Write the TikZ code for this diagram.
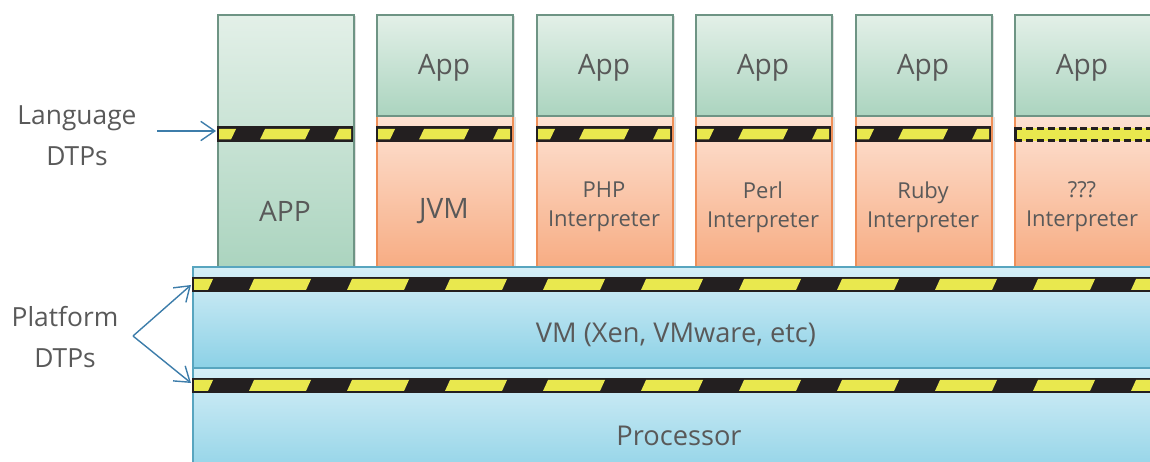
\documentclass[tikz,border=0pt]{standalone}
\usepackage{fontspec}
\setmainfont{Open Sans}
\usetikzlibrary{arrows.meta,shadows}

\definecolor{txtgray}{HTML}{595959}
\definecolor{appTop}{HTML}{E3F0E8}
\definecolor{appBot}{HTML}{ABD4BF}
\definecolor{appEdge}{HTML}{6E9484}
\definecolor{intTop}{HTML}{FDE2D3}
\definecolor{intBot}{HTML}{F7AC83}
\definecolor{intEdge}{HTML}{EF8F58}
\definecolor{hwTop}{HTML}{D6EFF7}
\definecolor{hwBot}{HTML}{8CD1E6}
\definecolor{hwEdge}{HTML}{58A5BF}
\definecolor{hazYel}{HTML}{E9E84E}
\definecolor{hazBlk}{HTML}{231F20}
\definecolor{arrowblue}{HTML}{3D7DAA}

\begin{document}
\begin{tikzpicture}[x=0.02cm,y=-0.02cm,
  every node/.style={text=txtgray,inner sep=0pt},
  colshadow/.style={general shadow={fill=black,opacity=0.12,shadow xshift=1.5pt,shadow yshift=-0.5pt}},
  appbox/.style={draw=appEdge,line width=0.9pt,shade,top color=appTop,bottom color=appBot,
    minimum width=2.72cm,anchor=north west,colshadow},
  intbox/.style={draw=intEdge,line width=1.4pt,shade,top color=intTop,bottom color=intBot,
    minimum width=2.72cm,minimum height=3.02cm,anchor=north west,colshadow},
  hwbox/.style={draw=hwEdge,line width=0.9pt,shade,top color=hwTop,bottom color=hwBot,
    minimum width=19.6cm,anchor=north west},
  biglabel/.style={font=\fontsize{16}{19}\selectfont},
  intlabel/.style={align=center,font=\fontsize{12.5}{16.5}\selectfont},
  sidelabel/.style={align=center,font=\fontsize{15}{23.5}\selectfont},
  dtparrow/.style={draw=arrowblue,line width=0.8pt,-{Straight Barb[length=8pt,width=11pt,line width=0.8pt]}}]
\clip (0,0) rectangle (1150,462);

% first column: application without interpreter
\node[appbox,minimum height=5.04cm] (app1) at (217,14) {};
\node[biglabel] (applbl1) at (285,211) {APP};

% interpreter columns with app on top
\foreach \x/\lbl/\ly [count=\i from 2] in {376/JVM/211,536/{PHP\\Interpreter}/207,695/{Perl\\Interpreter}/207,
    855/{Ruby\\Interpreter}/207,1014/{???\\Interpreter}/207}{
  \node[intbox] (int\i) at (\x,115) {};
  \node[appbox,minimum height=2.02cm] (app\i) at (\x,14) {};
  \node[biglabel] (applbl\i) at (\x+68,68) {App};
  \ifnum\i=2
    \node[biglabel] (intlbl\i) at (\x+68,\ly) {\lbl};
  \else
    \node[intlabel] (intlbl\i) at (\x+68,\ly) {\lbl};
  \fi
}

% language level hazard bars
\foreach \x in {217,376,536,695,855}{
  \fill[hazBlk] (\x,126.5) rectangle (\x+136,142);
  \begin{scope}
    \clip (\x+2,129) rectangle (\x+134,139.5);
    \foreach \k in {-1,0,1}
      \fill[hazYel] (\x+43+74*\k,139.5) -- ++(45,0) -- ++(5,-10.5) -- ++(-45,0) -- cycle;
  \end{scope}
}
% unknown interpreter: dashed bar
\fill[hazYel] (1014,128) rectangle (1150,141);
\draw[hazBlk,line width=1.6pt,dash pattern=on 4pt off 2.2pt] (1015,128.5) -- (1150,128.5);
\draw[hazBlk,line width=1.6pt,dash pattern=on 4pt off 2.2pt] (1015,140.5) -- (1150,140.5);
\draw[hazBlk,line width=1.6pt] (1015.5,127.5) -- (1015.5,141.5);

% platform layers
\node[hwbox,minimum height=2.02cm] (vm) at (192,266) {};
\node[hwbox,minimum height=2.3cm] (cpu) at (192,367) {};
\node[font=\fontsize{15.5}{19}\selectfont] (vmlbl) at (676,335) {VM (Xen, VMware, etc)};
\node[font=\fontsize{15.5}{19}\selectfont] (cpulbl) at (679,436) {Processor};

% platform level hazard bars
\foreach \y in {277,378}{
  \fill[hazBlk] (192,\y) rectangle (1160,\y+15);
  \begin{scope}
    \clip (194,\y+2) rectangle (1160,\y+13);
    \foreach \k in {-1,...,9}
      \fill[hazYel] (249+98*\k,\y+13) -- ++(57,0) -- ++(5,-11) -- ++(-57,0) -- cycle;
  \end{scope}
}

% side labels and arrows
\node[sidelabel] (langlbl) at (77,136) {Language\\DTPs};
\node[sidelabel] (platlbl) at (65,337) {Platform\\DTPs};
\coordinate (langtail) at (157,131);
\coordinate (langbar) at (216,131);
\coordinate (platfork) at (133,336);
\coordinate (vmbar) at (191,285);
\coordinate (cpubar) at (191,383);
\draw[dtparrow] (langtail) -- (langbar);
\draw[dtparrow] (platfork) -- (vmbar);
\draw[dtparrow] (platfork) -- (cpubar);
\end{tikzpicture}
\end{document}
